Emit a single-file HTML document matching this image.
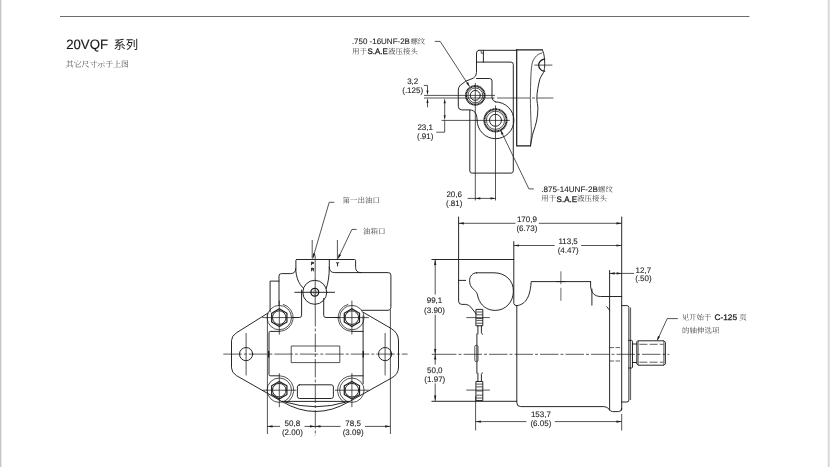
<!DOCTYPE html>
<html><head><meta charset="utf-8"><title>20VQF</title>
<style>
html,body{margin:0;padding:0;background:#fff;}
body{width:830px;height:467px;overflow:hidden;font-family:"Liberation Sans",sans-serif;}
svg{display:block;position:absolute;left:0;top:0;will-change:transform;}
svg text{font-family:"Liberation Sans",sans-serif;text-rendering:geometricPrecision;}
svg text.cs{font-family:"Liberation Serif","Noto Serif CJK SC",serif;fill:#404040;}
svg text.cg{font-family:"Liberation Sans","Noto Sans CJK SC",sans-serif;fill:#1a1a1a;}
.o{fill:none;stroke:#1c1c1c;stroke-width:.95;stroke-linecap:round;stroke-linejoin:round}
.o3{fill:none;stroke:#1c1c1c;stroke-width:1.35}
.d2{fill:none;stroke:#555;stroke-width:.5}
.o2{fill:none;stroke:#1c1c1c;stroke-width:1.2;stroke-linecap:round;stroke-linejoin:round}
.d{fill:none;stroke:#1c1c1c;stroke-width:.75;stroke-linecap:butt;stroke-linejoin:round}
.th{fill:none;stroke:#1c1c1c;stroke-width:2.0;stroke-dasharray:1.2 .3}
.c{fill:none;stroke:#1c1c1c;stroke-width:.72;stroke-dasharray:18.5 2 3 2}
.c3{fill:none;stroke:#1c1c1c;stroke-width:.7;stroke-dasharray:22 2.5 3 2.5}
.c4{fill:none;stroke:#1c1c1c;stroke-width:.72;stroke-dasharray:33 2 3 2 18 0}
.c2{fill:none;stroke:#1c1c1c;stroke-width:.65;stroke-dasharray:13 3.5}
.h{fill:none;stroke:#1c1c1c;stroke-width:.7;stroke-dasharray:4.5 1.4}
.h2{fill:none;stroke:#1c1c1c;stroke-width:.7;stroke-dasharray:8 2.2}
.ah{fill:#1c1c1c;stroke:none}
.t{fill:#222;stroke:#222;stroke-width:.1px}
.tb{fill:#1e1e1e;stroke:#1e1e1e;stroke-width:.3px}
.tl{fill:#111;stroke:#111;stroke-width:.3px;font-weight:bold}
.tt{fill:#181818;stroke:#181818;stroke-width:.15px}
</style></head>
<body>
<svg width="830" height="467" viewBox="0 0 830 467">
<rect x="0" y="0" width="1.4" height="467" fill="#c6c6c6"/>
<rect x="827.8" y="0" width="1.2" height="467" fill="#d6d6d6"/>
<rect x="829" y="0" width="1" height="467" fill="#e4e4e4"/>
<rect x="60" y="16" width="689.4" height="1" fill="#6c6c6c"/>
<text class="tt" x="66.2" y="48.5" font-size="13.6" text-anchor="start" textLength="41.8" lengthAdjust="spacingAndGlyphs">20VQF</text>
<text class="cg" x="113.4" y="48.7" font-size="12.4" text-anchor="start">系列</text>
<text class="cs" x="65.8" y="66.6" font-size="7.9" text-anchor="start" style="fill:#4a4a4a">其它尺寸示于上图</text>
<text class="t" x="351.9" y="43.9" font-size="8" text-anchor="start" textLength="58" lengthAdjust="spacingAndGlyphs">.750 -16UNF-2B</text>
<text class="cs" x="410.4" y="43.6" font-size="7.4" text-anchor="start">螺纹</text>
<text class="cs" x="351.9" y="54.0" font-size="7.5" text-anchor="start">用于</text>
<text class="tb" x="367.6" y="54.3" font-size="8" text-anchor="start" textLength="20.2" lengthAdjust="spacingAndGlyphs">S.A.E</text>
<text class="cs" x="387.9" y="54.0" font-size="7.5" text-anchor="start">液压接头</text>
<path class="d" d="M434.8,41.4H440.2L469.4,86.4"/>
<path class="ah" d="M469.60,86.80L466.23,83.17L468.14,82.07Z"/>
<path class="o" d="M478.8,50.3H516.5"/>
<path class="o2" d="M516.5,49.8H542.3"/>
<path class="o" d="M478.8,50.3Q476.5,50.6 476.5,53V72.5Q476.5,76.5 473,78.3Q465,80.5 460.3,85.2Q458.3,87.3 458.3,90V106.3Q458.3,109.9 461.8,109.9H469.3Q474.6,110 476.1,114.2Q477.1,117 477.1,120.3"/>
<path class="o" d="M483.4,50.3V62.1"/>
<path class="d" d="M481.2,50.6V53.2H483.5"/>
<path class="o" d="M476.5,62.1H510.9Q513.3,62.1 513.3,64.5V170.9Q513.3,173.1 511.1,173.1H471.9Q469.8,173.1 469.8,170.9V110"/>
<path class="o" d="M476.5,78.5H489.6Q492,78.5 492,80.9V97.5Q492.2,101 495.5,101.9"/>
<path class="o" d="M495.5,101.9A18.4,18.4 0 1 1 477.1,120.3"/>
<path class="o2" d="M516.7,49.8V145.9H530.5"/>
<path class="o" d="M542.3,49.8C543.6,52.5 544.6,56 544.7,63.6C544.7,69 544,71.5 543.2,73C541.5,76 540.2,77.5 539.6,80C538.4,85 537,92 536.8,97.7C536.8,102 538,105 537.9,108.5C537.8,113 537.4,117 536.6,121C535.8,125 534.4,128.5 533.3,132C532,137 531.2,141 530.5,145.9"/>
<path class="d" d="M542.3,52.8C539,53.8 537,55 535.4,57C533.2,59.8 532.2,62 531.8,65.5C531.2,70 531,73 530.9,76C530.6,84 530.4,92 530.4,97.7C530.4,106 530.7,113 530.9,120C531.1,125 531.4,129 531.4,132C531.3,137 531,141 530.5,145.9"/>
<path class="o2" d="M544.7,59.2A6,6 0 0 0 544.7,71.2"/>
<path class="d" d="M534.4,65.1L552.4,65.1"/>
<path class="d" d="M424,98H494.5"/>
<path class="c4" d="M497,98H553.4"/>
<path class="d" d="M424,95.4H495"/>
<path class="d" d="M441.6,120.4H509.8"/>
<path class="d" d="M475.3,83V200.5"/>
<path class="d" d="M495.5,105.5V200.5"/>
<circle class="th" cx="475.3" cy="95.4" r="9.3"/>
<circle class="d" cx="475.3" cy="95.4" r="7.4"/>
<circle class="o" cx="475.3" cy="95.4" r="5.0"/>
<circle class="th" cx="495.5" cy="120.3" r="11.1"/>
<circle class="d" cx="495.5" cy="120.3" r="9.1"/>
<circle class="o" cx="495.5" cy="120.3" r="6.0"/>
<path class="d" d="M500.8,130.6L528.9,188.9H533.8"/>
<path class="ah" d="M500.40,129.80L503.48,133.68L501.51,134.63Z"/>
<text class="t" x="541.3" y="191.9" font-size="8" text-anchor="start" textLength="56.6" lengthAdjust="spacingAndGlyphs">.875-14UNF-2B</text>
<text class="cs" x="598.0" y="191.6" font-size="7.4" text-anchor="start">螺纹</text>
<text class="cs" x="541.3" y="201.3" font-size="7.5" text-anchor="start">用于</text>
<text class="tb" x="556.6" y="201.6" font-size="8" text-anchor="start" textLength="20.4" lengthAdjust="spacingAndGlyphs">S.A.E</text>
<text class="cs" x="577.0" y="201.3" font-size="7.5" text-anchor="start">液压接头</text>
<text class="t" x="412.7" y="84.4" font-size="8" text-anchor="middle">3,2</text>
<text class="t" x="412.7" y="93.2" font-size="8" text-anchor="middle">(.125)</text>
<path class="d" d="M423.8,85.4H427.5V91.5"/>
<path class="ah" d="M427.50,95.30L426.46,90.47L428.54,90.47Z"/>
<path class="d" d="M427.5,102V107.3"/>
<path class="ah" d="M427.50,98.10L428.54,102.93L426.46,102.93Z"/>
<path class="d" d="M444.7,102.5V116"/>
<path class="ah" d="M444.70,98.30L445.74,103.36L443.66,103.36Z"/>
<path class="ah" d="M444.70,120.20L443.66,115.14L445.74,115.14Z"/>
<path class="d" d="M444.7,120.3V132.2H436.3"/>
<text class="t" x="425.2" y="129.5" font-size="8" text-anchor="middle">23,1</text>
<text class="t" x="425.2" y="138.7" font-size="8" text-anchor="middle">(.91)</text>
<text class="t" x="454.2" y="197.3" font-size="8" text-anchor="middle">20,6</text>
<text class="t" x="454.2" y="205.7" font-size="8" text-anchor="middle">(.81)</text>
<path class="d" d="M467.6,198.4H495.4"/>
<path class="ah" d="M475.50,198.40L480.33,197.36L480.33,199.44Z"/>
<path class="ah" d="M495.40,198.40L490.57,199.44L490.57,197.36Z"/>
<text class="cs" x="342.4" y="203.0" font-size="7.5" text-anchor="start">第一出油口</text>
<text class="cs" x="363.0" y="233.9" font-size="7.5" text-anchor="start">油箱口</text>
<path class="d" d="M334.3,202.3H329.2L313.4,256.4"/>
<path class="ah" d="M312.60,259.20L313.04,253.34L315.38,254.02Z"/>
<path class="d" d="M356.6,229.4H351.9L338.6,257.3"/>
<path class="ah" d="M337.50,259.60L338.87,253.88L341.08,254.94Z"/>
<path class="d" d="M312.2,240V258.5"/>
<path class="d" d="M337.4,240V259.3"/>
<text class="tl" x="312.5" y="265.3" font-size="4.4" text-anchor="middle">P</text>
<text class="tl" x="312.5" y="270.7" font-size="4.4" text-anchor="middle">R</text>
<text class="tl" x="337.5" y="265.9" font-size="5.0" text-anchor="middle">T</text>
<path class="o" d="M296.6,259.5H354.6Q355.6,259.5 355.6,260.5V267.6Q355.9,272.6 360.9,272.6H388.3Q390.9,272.6 390.9,275.2V307.6Q390.9,310.3 388.2,310.3H362.2"/>
<path class="o" d="M296.6,259.5Q295.9,259.5 295.9,260.3V268.7Q295.4,273.6 290.5,273.6H281.4Q279,273.6 279,276V305.4"/>
<path class="o" d="M279,281.1H270.1V311.8"/>
<path class="o" d="M329.3,259.5V267.6Q329.6,272.6 334.6,272.6H361"/>
<path class="o" d="M329.3,267C329.3,276 328.2,283 326.2,288.5"/>
<path class="o" d="M295.7,268.5C296,277 298.5,284 303.8,288.6"/>
<circle class="o" cx="314.8" cy="292.3" r="12.0"/>
<circle class="o3" cx="314.8" cy="292.3" r="3.9"/>
<circle class="d2" cx="314.8" cy="292.3" r="1.9"/>
<path class="o" d="M294.8,292.3L334.6,292.3"/>
<path class="o" d="M301.6,290V315.3Q301.6,317.5 299.4,317.5H292.4"/>
<path class="o" d="M323.7,298.5V315.2Q323.7,317.5 326,317.5H339"/>
<path class="c" d="M315.3,308V436"/>
<path class="d" d="M315.2,255.5V308"/>
<circle class="d" cx="279.3" cy="317.6" r="12.2"/>
<path class="o2" d="M279.30,308.80L271.68,313.20L271.68,322.00L279.30,326.40L286.92,322.00L286.92,313.20Z"/>
<circle class="o" cx="279.3" cy="317.6" r="6.8"/>
<path class="d" d="M262.3,317.6L296.3,317.6"/>
<path class="d" d="M279.3,300.6L279.3,334.6"/>
<circle class="d" cx="351.9" cy="317.6" r="12.2"/>
<path class="o2" d="M351.90,308.80L344.28,313.20L344.28,322.00L351.90,326.40L359.52,322.00L359.52,313.20Z"/>
<circle class="o" cx="351.9" cy="317.6" r="6.8"/>
<path class="d" d="M334.9,317.6L368.9,317.6"/>
<path class="d" d="M351.9,300.6L351.9,334.6"/>
<circle class="d" cx="279.3" cy="390.2" r="12.2"/>
<path class="o2" d="M279.30,381.40L271.68,385.80L271.68,394.60L279.30,399.00L286.92,394.60L286.92,385.80Z"/>
<circle class="o" cx="279.3" cy="390.2" r="6.8"/>
<path class="d" d="M262.3,390.2L296.3,390.2"/>
<path class="d" d="M279.3,373.2L279.3,407.2"/>
<circle class="d" cx="351.9" cy="390.2" r="12.2"/>
<path class="o2" d="M351.90,381.40L344.28,385.80L344.28,394.60L351.90,399.00L359.52,394.60L359.52,385.80Z"/>
<circle class="o" cx="351.9" cy="390.2" r="6.8"/>
<path class="d" d="M334.9,390.2L368.9,390.2"/>
<path class="d" d="M351.9,373.2L351.9,407.2"/>
<path class="d" d="M282.87,304.27A13.8,13.8 0 0 1 279.30,331.40"/>
<path class="d" d="M351.90,331.40A13.8,13.8 0 0 1 348.33,304.27"/>
<path class="d" d="M279.30,375.80A14.4,14.4 0 0 1 286.06,402.91"/>
<path class="d" d="M345.14,402.91A14.4,14.4 0 0 1 351.90,375.80"/>
<path class="o" d="M279.3,331.4H270.2Q269,331.4 269,332.6V374.6Q269,375.8 270.2,375.8H279.3"/>
<path class="o" d="M351.9,331.4H363.1M363.1,316V383.8M363.1,375.8H351.9"/>
<path class="d" d="M267.4,314V434"/>
<path class="d" d="M390.4,310V434"/>
<path class="o" d="M268.1,313L236.6,332.7Q231.5,335.9 231.5,340.6V367.8Q231.5,372.6 236.6,375.7L282.3,401.8"/>
<path class="o" d="M363.4,312.4L391.2,328.5Q398.5,332.8 398.5,341V367Q398.5,374.6 391.2,378.2L349,401.8"/>
<circle class="o" cx="246.1" cy="354.1" r="6.6"/>
<circle class="o" cx="385.1" cy="354.1" r="6.6"/>
<path class="d" d="M246.1,333L246.1,375.4"/>
<path class="d" d="M385.1,333L385.1,375.4"/>
<path class="c" d="M223.3,354.1H407.6"/>
<path class="o3" d="M268.7,351V357.4M363.3,351V357.4"/>
<path class="d" d="M291.2,346H339.8V362.6H291.2Z"/>
<path class="o" d="M299.6,384.8H331.2Q333.4,384.8 333.4,387V396.3Q333.4,398.5 331.2,398.5H299.6Q297.4,398.5 297.4,396.3V387Q297.4,384.8 299.6,384.8Z"/>
<path class="o" d="M282.3,401.7Q315.6,421.5 349,401.7"/>
<path class="o" d="M282.3,401.4H349"/>
<path class="o" d="M285,402Q315.6,411.6 346.2,402"/>
<path class="d" d="M267.3,426.4H280M304.5,426.4H340.5M365,426.4H390.4"/>
<path class="ah" d="M267.30,426.40L272.59,425.30L272.59,427.50Z"/>
<path class="ah" d="M315.20,426.40L309.91,427.50L309.91,425.30Z"/>
<path class="ah" d="M315.20,426.40L320.49,425.30L320.49,427.50Z"/>
<path class="ah" d="M390.40,426.40L385.11,427.50L385.11,425.30Z"/>
<text class="t" x="292.4" y="426.1" font-size="8" text-anchor="middle">50,8</text>
<text class="t" x="292.4" y="435.2" font-size="8" text-anchor="middle">(2.00)</text>
<text class="t" x="353.1" y="426.1" font-size="8" text-anchor="middle">78,5</text>
<text class="t" x="353.1" y="435.2" font-size="8" text-anchor="middle">(3.09)</text>
<path class="o" d="M458.6,217V301.1Q458.6,304.4 461.8,304.4H465.6Q468.5,304.5 470.8,307.1L476.6,314.4"/>
<path class="o" d="M431.9,259.5H513.8"/>
<path class="o" d="M513.8,241.6V303.6Q514.4,305.8 517,305.6C524,304.6 530,299.5 531.1,282.4V281.6H590.6"/>
<path class="o" d="M458.6,280.4H465.7"/>
<path class="o" d="M476.5,272.8H494C505,272.8 513.4,280.1 513.4,291.1C513.4,302.1 505.5,310.4 495.2,310.4C486.5,310.4 480.5,305.1 478.3,298.1C477.4,295.1 477.3,292.9 475.6,291.2C472.5,288.6 469.6,286.1 469.6,280.8C469.6,276.1 472.5,272.8 476.5,272.8Z"/>
<path class="o" d="M516.8,305.6V402.6Q516.8,406.6 520.8,406.6H603.8Q607.4,406.8 609,409.2Q610.4,411.6 612.6,411.6H618.6Q621.7,411.6 621.7,408.6"/>
<path class="o" d="M590.6,281.6V286C591,292.5 594.5,296.5 600.6,296.5H621.7"/>
<path class="o" d="M591.9,289V305.2"/>
<path class="o" d="M606.8,306.8L609.6,310.2"/>
<path class="o" d="M609.6,270.5V410"/>
<path class="o" d="M621.7,217V410.2"/>
<path class="d" d="M621.7,413.8V430.6"/>
<path class="o" d="M621.7,305.6H626.9Q628.9,305.6 628.9,307.6V400Q628.9,402 626.9,402H621.7"/>
<path class="d" d="M630.6,307.5V400"/>
<path class="h" d="M609.6,347.6H621.7M609.6,361H621.7"/>
<path class="o" d="M628.6,340.4H631.6Q632.5,340.4 632.5,341.3V367.1Q632.5,368 631.6,368H628.6"/>
<path class="o" d="M632.5,344H636.8M632.5,362.5H636.8"/>
<path class="o" d="M638.1,340.8H664L665.4,342.2V363.8L664,365.2H638.1L636.8,363.9V342.1Z"/>
<path class="d" d="M638.1,340.8V365.2M663.9,340.8V365.2"/>
<path class="h2" d="M639.4,344.3H663.4M639.4,362.2H663.4"/>
<path class="c" d="M438,354.3H669.4"/>
<path class="d" d="M431.8,354.3H438"/>
<path class="c2" d="M560.9,271.3V302"/>
<path class="d" d="M556.4,281.6L565.4,281.6"/>
<path class="o" d="M476.3,309.4H482.8V325.8H476.3Z"/>
<path class="d" d="M476.3,312.0H482.8M476.3,314.79999999999995H482.8M476.3,318.5H482.8M476.3,320.40000000000003H482.8M476.3,323.2H482.8"/>
<path class="d" d="M466.3,317.6L489.9,317.6"/>
<path class="o" d="M476.3,381.5H482.8V400.6H476.3Z"/>
<path class="d" d="M476.3,384.1H482.8M476.3,386.9H482.8M476.3,391.0H482.8M476.3,395.20000000000005H482.8M476.3,398.0H482.8"/>
<path class="d" d="M466.3,390.1L489.9,390.1"/>
<path class="o" d="M477.9,325.6V334M481.4,325.6V332.6L482.3,334.2"/>
<path class="o" d="M477.9,381.5V373.2M481.4,381.5V374.4L482.3,372.8"/>
<path class="o" d="M476.9,334V373.2"/>
<path class="d" d="M476.4,345.2Q478,345.2 478,346.7V360.2Q478,361.7 476.4,361.7Q474.8,361.7 474.8,360.2V346.7Q474.8,345.2 476.4,345.2Z"/>
<path class="d" d="M475.6,396V430.4"/>
<path class="d" d="M677.8,318.6H667.2L657.6,339.6"/>
<path class="ah" d="M656.80,341.20L657.95,335.91L660.06,336.87Z"/>
<text class="cs" x="681.5" y="320.3" font-size="7.5" text-anchor="start">见开始于</text>
<text class="tb" x="714.5" y="320.4" font-size="8.1" text-anchor="start" textLength="22.6" lengthAdjust="spacingAndGlyphs">C-125</text>
<text class="cs" x="739.2" y="320.3" font-size="7.5" text-anchor="start">页</text>
<text class="cs" x="682.0" y="333.1" font-size="7.5" text-anchor="start">的轴伸选项</text>
<path class="d" d="M458.6,223.3H515.4M538.8,223.3H621.7"/>
<path class="ah" d="M458.60,223.30L463.89,222.20L463.89,224.40Z"/>
<path class="ah" d="M621.70,223.30L616.41,224.40L616.41,222.20Z"/>
<text class="t" x="526.9" y="222.4" font-size="8" text-anchor="middle">170,9</text>
<text class="t" x="526.9" y="231.4" font-size="8" text-anchor="middle">(6.73)</text>
<path class="d" d="M513.8,245.5H554.6M581.2,245.5H621.7"/>
<path class="ah" d="M513.80,245.50L519.09,244.40L519.09,246.60Z"/>
<path class="ah" d="M621.70,245.50L616.41,246.60L616.41,244.40Z"/>
<text class="t" x="568.1" y="244.3" font-size="8" text-anchor="middle">113,5</text>
<text class="t" x="568.1" y="252.9" font-size="8" text-anchor="middle">(4.47)</text>
<path class="d" d="M609.6,273.4H634.2"/>
<path class="ah" d="M609.60,273.40L614.66,272.36L614.66,274.44Z"/>
<path class="ah" d="M621.70,273.40L616.64,274.44L616.64,272.36Z"/>
<text class="t" x="643.4" y="273.0" font-size="8" text-anchor="middle">12,7</text>
<text class="t" x="643.4" y="281.2" font-size="8" text-anchor="middle">(.50)</text>
<path class="d" d="M435.2,259.7V294.6M435.2,314.6V364.6M435.2,383.4V400.9"/>
<path class="ah" d="M435.20,259.60L436.30,264.89L434.10,264.89Z"/>
<path class="ah" d="M435.20,354.20L434.10,348.91L436.30,348.91Z"/>
<path class="ah" d="M435.20,354.20L436.30,359.49L434.10,359.49Z"/>
<path class="ah" d="M435.20,400.90L434.10,395.61L436.30,395.61Z"/>
<path class="o" d="M431.9,401.3H516.8"/>
<text class="t" x="434.5" y="303.4" font-size="8" text-anchor="middle">99,1</text>
<text class="t" x="434.5" y="312.6" font-size="8" text-anchor="middle">(3.90)</text>
<text class="t" x="434.8" y="372.5" font-size="8" text-anchor="middle">50,0</text>
<text class="t" x="434.8" y="382.2" font-size="8" text-anchor="middle">(1.97)</text>
<path class="d" d="M475.6,421.6H526.4M554.8,421.6H621.7"/>
<path class="ah" d="M475.60,421.60L480.89,420.50L480.89,422.70Z"/>
<path class="ah" d="M621.70,421.60L616.41,422.70L616.41,420.50Z"/>
<text class="t" x="540.9" y="417.2" font-size="8" text-anchor="middle">153,7</text>
<text class="t" x="540.9" y="425.8" font-size="8" text-anchor="middle">(6.05)</text>
</svg>
</body></html>
